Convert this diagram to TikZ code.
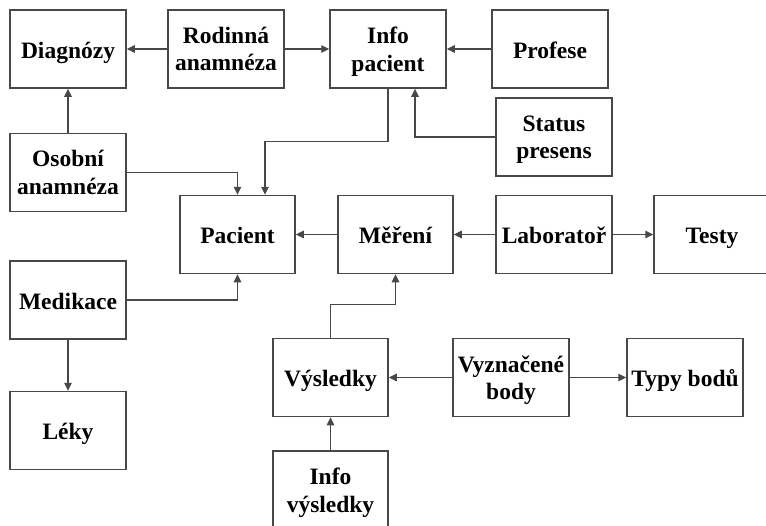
\documentclass[tikz,border=0pt]{standalone}
\usepackage{fontspec}
\setmainfont{Liberation Serif}
\usetikzlibrary{arrows.meta}
\definecolor{linec}{HTML}{484848}
\begin{document}
\begin{tikzpicture}[x=1pt,y=-1pt,
  box/.style={draw=linec,line width=1.5pt,minimum width=116pt,minimum height=78pt,inner sep=0pt,align=center,
    font=\fontsize{23.5}{27.5}\selectfont\bfseries,
    execute at begin node={\rule{0pt}{24pt}},
    execute at end node={\rule[-5.5pt]{0pt}{5.5pt}}},
  twoline/.style={text depth=-8pt},
  arr/.style={draw=linec,line width=1.2pt,-{Triangle[length=8pt,width=7.5pt]}}]
\useasboundingbox (0,0) rectangle (766,525);
\clip (0,0) rectangle (766,525);
\node[box] (diag) at (68,49) {Diagnózy};
\node[box,twoline] (rod) at (226,49) {Rodinná\\anamnéza};
\node[box,twoline] (info) at (388,49) {Info\\pacient};
\node[box] (prof) at (550,49) {Profese};
\node[box,twoline] (status) at (554,137) {Status\\presens};
\node[box,twoline] (osob) at (68,172.5) {Osobní\\anamnéza};
\node[box,minimum width=115pt] (pac) at (237.5,234.5) {Pacient};
\node[box,minimum width=115pt] (mer) at (395.5,234.5) {Měření};
\node[box] (lab) at (554,234.5) {Laboratoř};
\node[box] (testy) at (712,234.5) {Testy};
\node[box] (med) at (68,300) {Medikace};
\node[box] (leky) at (68,430.5) {Léky};
\node[box,minimum width=115pt] (vys) at (330.5,377.5) {Výsledky};
\node[box,twoline] (vyz) at (511,377.5) {Vyznačené\\body};
\node[box] (typy) at (685,377.5) {Typy bodů};
\node[box,twoline,minimum width=115pt] (infov) at (330.5,490) {Info\\výsledky};

\draw[arr] (rod.west) -- (diag.east);
\draw[arr] (rod.east) -- (info.west);
\draw[arr] (prof.west) -- (info.east);
\draw[arr] (osob.north) -- (diag.south);
\draw[arr] (info.south) -- ++(0,53) -| ([xshift=27.5pt]pac.north);
\draw[arr] (osob.east) -| (pac.north);
\draw[arr] (status.west) -| ([xshift=27pt]info.south);
\draw[arr] (mer.west) -- (pac.east);
\draw[arr] (lab.west) -- (mer.east);
\draw[arr] (lab.east) -- (testy.west);
\draw[arr] (med.east) -| (pac.south);
\draw[arr] (med.south) -- (leky.north);
\draw[arr] (vys.north) -- ++(0,-33) -| (mer.south);
\draw[arr] (vyz.west) -- (vys.east);
\draw[arr] (vyz.east) -- (typy.west);
\draw[arr] (infov.north) -- (vys.south);
\end{tikzpicture}
\end{document}
